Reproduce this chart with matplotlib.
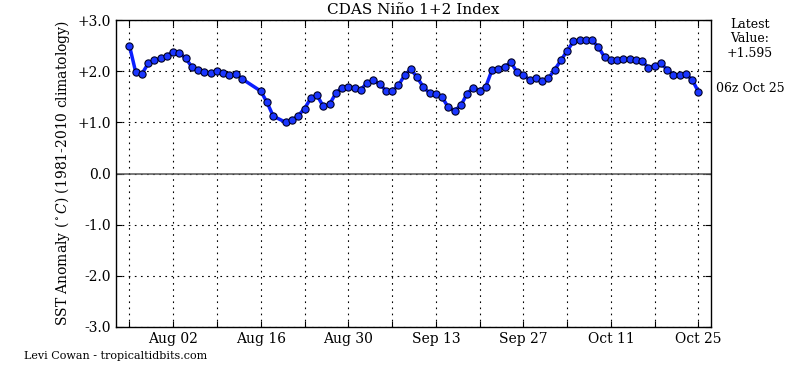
import matplotlib
matplotlib.use("Agg")
import matplotlib.pyplot as plt
import matplotlib.dates as mdates
import numpy as np
import datetime as dt

# ---- data ----
start_date = dt.date(2015, 7, 26)
day_offsets = [0, 1, 2, 3, 4, 5, 6, 7, 8, 9, 10, 11, 12, 13, 14, 15, 16, 17, 18,
               21, 22, 23, 25, 26, 27, 28, 29, 30, 31, 32, 33, 34, 35, 36, 37, 38,
               39, 40, 41, 42, 43, 44, 45, 46, 47, 48, 49, 50, 51, 52, 53, 54, 55,
               56, 57, 58, 59, 60, 61, 62, 63, 64, 65, 66, 67, 68, 69, 70, 71, 72,
               73, 74, 75, 76, 77, 78, 79, 80, 81, 82, 83, 84, 85, 86, 87, 88, 89,
               90, 91]
sst_anomaly = [2.50, 1.98, 1.95, 2.15, 2.21, 2.25, 2.30, 2.38, 2.36, 2.25, 2.08,
               2.03, 1.98, 1.96, 2.01, 1.97, 1.92, 1.95, 1.85,
               1.61, 1.39, 1.12, 1.00, 1.04, 1.13, 1.27, 1.47, 1.53, 1.31, 1.35,
               1.57, 1.68, 1.70, 1.67, 1.64, 1.77, 1.82, 1.75, 1.62, 1.61, 1.72,
               1.92, 2.04, 1.88, 1.69, 1.57, 1.55, 1.49, 1.29, 1.23, 1.33, 1.56,
               1.68, 1.62, 1.70, 2.03, 2.05, 2.09, 2.17, 1.98, 1.92, 1.83, 1.86,
               1.80, 1.86, 2.03, 2.21, 2.40, 2.58, 2.60, 2.60, 2.60, 2.47, 2.27,
               2.21, 2.21, 2.23, 2.23, 2.21, 2.19, 2.07, 2.11, 2.15, 2.03, 1.93,
               1.92, 1.94, 1.83, 1.595]
y_ticks = [-3, -2, -1, 0, 1, 2, 3]
y_tick_labels = ['-3.0', '-2.0', '-1.0', '0.0', '+1.0', '+2.0', '+3.0']
latest_label = "Latest\nValue:\n+1.595"
latest_time = "06z Oct 25"

dates = [start_date + dt.timedelta(days=d) for d in day_offsets]

plt.rcParams['font.family'] = ['DejaVu Serif']
plt.rcParams['mathtext.fontset'] = 'dejavuserif'

fig = plt.figure(figsize=(8.06, 3.73), dpi=100)
ax = fig.add_axes([116/806, 1 - 327/373, (711 - 116)/806, (327 - 20)/373])

ax.axhline(0, color='#555555', lw=1.1, zorder=2)
ax.plot(dates, sst_anomaly, '-', color='#0a1eff', lw=2.5, solid_joinstyle='miter',
        zorder=3)
ax.plot(dates, sst_anomaly, 'o', ms=5.2, mfc='#1a36ff', mec='#000022', mew=0.8,
        zorder=4)

ax.set_ylim(-3, 3)
ax.set_yticks(y_ticks)
ax.set_yticklabels(y_tick_labels, fontsize=10)

x0 = mdates.date2num(dates[0])
x1 = mdates.date2num(dates[-1])
ax.set_xlim(x0 - 2.15, x1 + 2.0)
week_ticks = [dates[0] + dt.timedelta(days=7 * k) for k in range(14)]
ax.set_xticks(week_ticks)
ax.set_xticklabels([t.strftime('%b %d') if k % 2 == 1 else '' for k, t in enumerate(week_ticks)],
                   fontsize=10)

ax.grid(True, linestyle=(0, (1.5, 4)), color='black', lw=0.8)
ax.tick_params(direction='in', top=True, right=True, length=4, width=0.8)
for s in ax.spines.values():
    s.set_linewidth(1.0)

ax.set_title('CDAS Niño 1+2 Index', fontsize=11, pad=4)
ax.set_ylabel(r'SST Anomaly ($^\circ C$) (1981-2010 climatology)', fontsize=10)

fig.text(750/806, 1 - 18/373, latest_label, ha='center', va='top', fontsize=9,
         linespacing=1.15)
fig.text(750/806, 1 - 88/373, latest_time, ha='center', va='center', fontsize=9)
fig.text(24/806, 1 - 356/373, 'Levi Cowan - tropicaltidbits.com', ha='left',
         va='center', fontsize=8)

fig.savefig('out.png', dpi=100)
